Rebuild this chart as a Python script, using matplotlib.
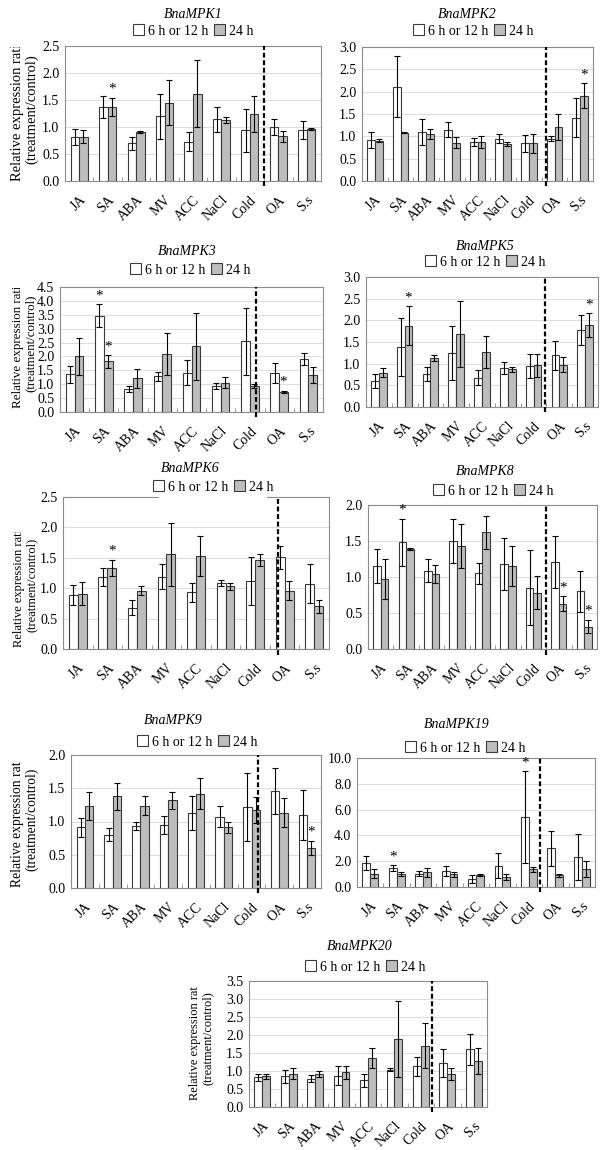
import matplotlib
matplotlib.use("Agg")
import matplotlib.pyplot as plt
from matplotlib.patches import Patch, Rectangle
from matplotlib.ticker import FormatStrFormatter, MultipleLocator, FixedLocator
from matplotlib.transforms import Bbox, TransformedBbox

plt.rcParams['font.family'] = ['Liberation Serif', 'DejaVu Serif']
plt.rcParams['font.size'] = 10

treatments = ["JA", "SA", "ABA", "MV", "ACC", "NaCl", "Cold", "OA", "S.s"]
series_names = ["6 h or 12 h", "24 h"]

# mean and error for each gene, 6h/12h and 24h
mpk1_a = [0.81, 1.37, 0.70, 1.20, 0.73, 1.14, 0.94, 1.00, 0.95]
mpk1_a_err = [0.15, 0.21, 0.12, 0.42, 0.18, 0.23, 0.40, 0.15, 0.17]
mpk1_b = [0.82, 1.37, 0.91, 1.45, 1.62, 1.13, 1.24, 0.83, 0.97]
mpk1_b_err = [0.12, 0.17, 0.02, 0.42, 0.62, 0.05, 0.33, 0.10, 0.02]

mpk2_a = [0.92, 2.11, 1.09, 1.15, 0.88, 0.95, 0.84, 0.95, 1.42]
mpk2_a_err = [0.18, 0.68, 0.29, 0.17, 0.09, 0.11, 0.20, 0.06, 0.43]
mpk2_b = [0.90, 1.08, 1.06, 0.86, 0.88, 0.83, 0.84, 1.21, 1.91]
mpk2_b_err = [0.03, 0.01, 0.11, 0.12, 0.13, 0.05, 0.22, 0.30, 0.28]

mpk3_a = [1.36, 3.47, 0.83, 1.28, 1.42, 0.95, 2.54, 1.42, 1.91]
mpk3_a_err = [0.30, 0.41, 0.11, 0.17, 0.44, 0.11, 1.22, 0.36, 0.23]
mpk3_b = [2.00, 1.82, 1.21, 2.10, 2.36, 1.06, 0.94, 0.72, 1.33]
mpk3_b_err = [0.66, 0.22, 0.35, 0.76, 1.20, 0.20, 0.06, 0.05, 0.29]

mpk5_a = [0.60, 1.39, 0.77, 1.25, 0.68, 0.91, 0.95, 1.19, 1.78]
mpk5_a_err = [0.17, 0.67, 0.16, 0.63, 0.18, 0.14, 0.28, 0.33, 0.34]
mpk5_b = [0.79, 1.87, 1.13, 1.68, 1.27, 0.87, 0.96, 0.98, 1.89]
mpk5_b_err = [0.10, 0.45, 0.06, 0.76, 0.38, 0.06, 0.27, 0.18, 0.27]

mpk6_a = [0.89, 1.19, 0.68, 1.19, 0.93, 1.08, 1.12, 1.51, 1.07]
mpk6_a_err = [0.17, 0.15, 0.12, 0.20, 0.15, 0.05, 0.40, 0.19, 0.32]
mpk6_b = [0.91, 1.33, 0.96, 1.56, 1.53, 1.03, 1.47, 0.96, 0.70]
mpk6_b_err = [0.19, 0.13, 0.08, 0.52, 0.33, 0.06, 0.10, 0.16, 0.10]

mpk8_a = [1.15, 1.48, 1.09, 1.50, 1.05, 1.18, 0.85, 1.21, 0.80]
mpk8_a_err = [0.24, 0.33, 0.16, 0.31, 0.15, 0.36, 0.52, 0.36, 0.29]
mpk8_b = [0.97, 1.39, 1.04, 1.43, 1.62, 1.15, 0.78, 0.63, 0.31]
mpk8_b_err = [0.28, 0.01, 0.12, 0.30, 0.23, 0.28, 0.23, 0.10, 0.09]

mpk9_a = [0.91, 0.80, 0.93, 0.95, 1.13, 1.07, 1.22, 1.46, 1.10]
mpk9_a_err = [0.14, 0.10, 0.06, 0.14, 0.26, 0.16, 0.51, 0.34, 0.38]
mpk9_b = [1.23, 1.38, 1.24, 1.32, 1.42, 0.91, 1.17, 1.13, 0.60]
mpk9_b_err = [0.21, 0.20, 0.14, 0.13, 0.23, 0.09, 0.20, 0.22, 0.11]

mpk19_a = [1.87, 1.48, 1.04, 1.25, 0.62, 1.66, 5.40, 2.99, 2.34]
mpk19_a_err = [0.55, 0.21, 0.21, 0.39, 0.34, 0.99, 3.56, 1.37, 1.76]
mpk19_b = [1.04, 0.99, 1.14, 0.99, 0.94, 0.78, 1.38, 0.91, 1.38]
mpk19_b_err = [0.34, 0.16, 0.34, 0.18, 0.05, 0.21, 0.18, 0.13, 0.62]

mpk20_a = [0.82, 0.86, 0.79, 0.87, 0.74, 1.04, 1.13, 1.22, 1.60]
mpk20_a_err = [0.10, 0.18, 0.10, 0.26, 0.19, 0.05, 0.27, 0.38, 0.42]
mpk20_b = [0.85, 0.93, 0.92, 0.96, 1.36, 1.88, 1.70, 0.91, 1.28]
mpk20_b_err = [0.07, 0.16, 0.08, 0.18, 0.29, 1.06, 0.62, 0.16, 0.35]

# significant differences: (treatment index, series index)
mpk1_stars = [(1, 1)]
mpk2_stars = [(8, 1)]
mpk3_stars = [(1, 0), (1, 1), (7, 1)]
mpk5_stars = [(1, 1), (8, 1)]
mpk6_stars = [(1, 1)]
mpk8_stars = [(1, 0), (7, 1), (8, 1)]
mpk9_stars = [(8, 1)]
mpk19_stars = [(1, 0), (6, 0)]
mpk20_stars = []

W, H = 600, 1150
fig = plt.figure(figsize=(6, 11.5), dpi=100)

# name, data, stars, ymax, ystep, axes box px (l, t, r, b), title xy, legend xy,
# divider x, ylabel (x px, bottom px, clip top px, size) or None,
# white mask over top spine (px) or None
panels = [
    ("BnaMPK1", (mpk1_a, mpk1_a_err, mpk1_b, mpk1_b_err), mpk1_stars, 2.5, 0.5,
     (65, 46, 321, 181), (193, 14), (193, 31), 6.5, (25, 181, 47, 10.5), None),
    ("BnaMPK2", (mpk2_a, mpk2_a_err, mpk2_b, mpk2_b_err), mpk2_stars, 3.0, 0.5,
     (362, 47, 593, 181), (467, 14), (473, 31), 6.67, None, None),
    ("BnaMPK3", (mpk3_a, mpk3_a_err, mpk3_b, mpk3_b_err), mpk3_stars, 4.5, 0.5,
     (60, 287, 323, 412), (187, 252), (190, 270), 6.21, (24, 408, 288, 9.4), None),
    ("BnaMPK5", (mpk5_a, mpk5_a_err, mpk5_b, mpk5_b_err), mpk5_stars, 3.0, 0.5,
     (366, 277, 598, 407), (485, 247), (485, 262), 6.44, None, None),
    ("BnaMPK6", (mpk6_a, mpk6_a_err, mpk6_b, mpk6_b_err), mpk6_stars, 2.5, 0.5,
     (63, 497, 329, 649), (190, 468), (213, 487), 6.77, (25, 647, 532, 9.0), (159, 267)),
    ("BnaMPK8", (mpk8_a, mpk8_a_err, mpk8_b, mpk8_b_err), mpk8_stars, 2.0, 0.5,
     (368, 505, 597, 649), (485, 472), (493, 491), 6.5, None, None),
    ("BnaMPK9", (mpk9_a, mpk9_a_err, mpk9_b, mpk9_b_err), mpk9_stars, 2.0, 0.5,
     (71, 755, 321, 888), (173, 720), (197, 742), 6.23, (25, 887, 762, 9.8), None),
    ("BnaMPK19", (mpk19_a, mpk19_a_err, mpk19_b, mpk19_b_err), mpk19_stars, 10.0, 2.0,
     (357, 758, 595, 887), (457, 725), (465, 748), 6.43, None, None),
    ("BnaMPK20", (mpk20_a, mpk20_a_err, mpk20_b, mpk20_b_err), mpk20_stars, 3.5, 0.5,
     (249, 981, 487, 1107), (360, 947), (365, 967), 6.43, (201, 1100, 987, 8.9), None),
]

white_c = "white"
gray_c = "#bdbdbd"
edge_c = "#3a3a3a"
frame_c = "#8c8c8c"
bw = 0.3

for (name, (a, a_err, b, b_err), stars, ymax, ystep, box, tpos, lpos, divx,
     ylab, mask) in panels:
    l, t, r, bt = box
    ax = fig.add_axes([l / W, 1 - bt / H, (r - l) / W, (bt - t) / H])
    x = list(range(len(treatments)))
    xa = [i - bw / 2 for i in x]
    xb = [i + bw / 2 for i in x]
    ekw = dict(ecolor="black", elinewidth=0.8, capsize=2.5, capthick=0.8)
    ax.bar(xa, a, bw, yerr=a_err, color=white_c, edgecolor=edge_c, linewidth=0.8,
           error_kw=ekw, zorder=3)
    ax.bar(xb, b, bw, yerr=b_err, color=gray_c, edgecolor=edge_c, linewidth=0.8,
           error_kw=ekw, zorder=3)

    for i, s in stars:
        xs = xa[i] if s == 0 else xb[i]
        top = a[i] + a_err[i] if s == 0 else b[i] + b_err[i]
        ax.text(xs, top + ymax * 0.015, "*", ha="center", va="bottom", fontsize=11, zorder=5)

    ax.plot([divx, divx], [-ymax * 0.04, ymax], color="black", lw=1.6,
            linestyle=(0, (2.2, 1.2)), clip_on=False, zorder=6)

    ax.set_xlim(-0.5, len(treatments) - 0.5)
    ax.set_ylim(0, ymax)
    ax.yaxis.set_major_locator(MultipleLocator(ystep))
    ax.yaxis.set_major_formatter(FormatStrFormatter("%.1f"))
    ax.grid(axis="y", color="#dcdcdc", lw=0.7, zorder=0)
    ax.set_axisbelow(True)
    for sp in ax.spines.values():
        sp.set_color(frame_c)
        sp.set_linewidth(0.8)

    ax.set_xticks(x)
    ax.set_xticklabels(treatments, rotation=45, ha="right", va="top", rotation_mode="anchor")
    ax.tick_params(axis="x", which="major", length=0, pad=9)
    ax.xaxis.set_minor_locator(FixedLocator([i + 0.5 for i in x[:-1]]))
    ax.tick_params(axis="x", which="minor", direction="in", length=3, color=frame_c)
    ax.tick_params(axis="y", length=0, pad=4)

    if ylab is not None:
        lx, ly, ltop, lsize = ylab
        lab = fig.text(lx / W, 1 - ly / H, "Relative expression ratio\n(treatment/control)",
                       rotation=90, ha="center", va="bottom", multialignment="center",
                       linespacing=1.1, fontsize=lsize)
        clip = TransformedBbox(Bbox([[0, 0], [1, 1 - ltop / H]]), fig.transFigure)
        lab.set_clip_box(clip)
        lab.set_clip_on(True)

    if mask is not None:
        fig.patches.append(Rectangle((mask[0] / W, 1 - (t + 4) / H), (mask[1] - mask[0]) / W,
                                     8 / H, transform=fig.transFigure, facecolor="white",
                                     edgecolor="none", zorder=4))

    fig.text(tpos[0] / W, 1 - tpos[1] / H, name, ha="center", va="center", style="italic",
             fontsize=10)
    handles = [Patch(facecolor=white_c, edgecolor=edge_c, linewidth=0.8),
               Patch(facecolor=gray_c, edgecolor=edge_c, linewidth=0.8)]
    fig.legend(handles, series_names, loc="center", bbox_to_anchor=(lpos[0] / W, 1 - lpos[1] / H),
               ncol=2, frameon=False, fontsize=10, handlelength=0.8, handleheight=0.8,
               handletextpad=0.3, columnspacing=0.4, borderpad=0.15, borderaxespad=0)

fig.savefig("out.png", dpi=100)
